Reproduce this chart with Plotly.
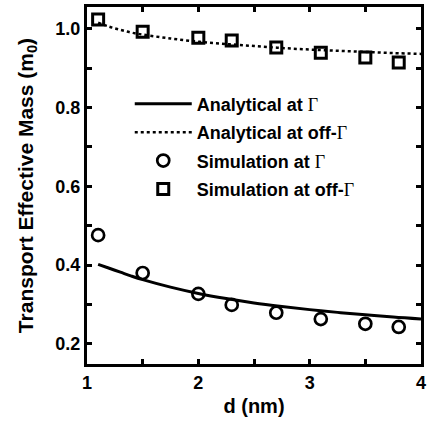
import plotly.graph_objects as go

# Simulation data
d_sim = [1.1, 1.5, 2.0, 2.3, 2.7, 3.1, 3.5, 3.8]
m_sim_gamma = [0.476, 0.380, 0.327, 0.299, 0.279, 0.263, 0.251, 0.243]
m_sim_off = [1.023, 0.992, 0.977, 0.970, 0.952, 0.939, 0.927, 0.914]

# Analytical curves
d_an = [1.1, 1.2, 1.3, 1.4, 1.5, 1.75, 2.0, 2.25, 2.5, 2.75, 3.0, 3.25, 3.5, 3.75, 4.0]
m_an_gamma = [0.402, 0.392, 0.382, 0.372, 0.363, 0.344, 0.328, 0.315, 0.304, 0.295,
              0.287, 0.280, 0.274, 0.268, 0.263]
m_an_off = [1.015, 1.005, 0.997, 0.990, 0.985, 0.975, 0.967, 0.961, 0.956, 0.951,
            0.947, 0.944, 0.941, 0.938, 0.936]

x_ticks = [1, 2, 3, 4]
y_ticks = [0.2, 0.4, 0.6, 0.8, 1.0]

G = '<span style="font-family:Liberation Serif;font-weight:normal">Γ</span>'

fig = go.Figure()
fig.add_trace(go.Scatter(x=d_an, y=m_an_gamma, mode='lines', line=dict(color='black', width=3, shape='spline'),
                         name='Analytical at ' + G, legendgroup='a'))
fig.add_trace(go.Scatter(x=d_an, y=m_an_off, mode='lines', line=dict(color='black', width=2.5, dash='dot', shape='spline'),
                         name='Analytical at off-' + G, legendgroup='b'))
fig.add_trace(go.Scatter(x=d_sim, y=m_sim_gamma, mode='markers',
                         marker=dict(symbol='circle-open', size=12, color='black', line=dict(width=2.7)),
                         name='Simulation at ' + G, legendgroup='c'))
fig.add_trace(go.Scatter(x=d_sim, y=m_sim_off, mode='markers',
                         marker=dict(symbol='square-open', size=11, color='black', line=dict(width=3)),
                         name='Simulation at off-' + G, legendgroup='d'))

axis_common = dict(showline=True, linecolor='black', linewidth=3, mirror='ticks',
                   ticks='inside', ticklen=5, tickwidth=3, tickcolor='black',
                   showgrid=False, zeroline=False,
                   tickfont=dict(family='Liberation Sans', size=18, color='black', weight='bold'))

fig.update_layout(
    width=429, height=422,
    margin=dict(l=87, r=3, t=7, b=58),
    plot_bgcolor='white', paper_bgcolor='white',
    showlegend=True,
    legend=dict(x=0.128, y=0.78, xanchor='left', yanchor='top', bgcolor='rgba(0,0,0,0)',
                font=dict(family='Liberation Sans', size=18, color='black', weight='bold'),
                itemwidth=57, tracegroupgap=2, traceorder='grouped'),
    xaxis=dict(range=[1, 4], tickvals=x_ticks, ticktext=[str(v) for v in x_ticks],
               minor=dict(dtick=0.5, ticks='inside', ticklen=5, tickwidth=3, tickcolor='black'),
               title=dict(text='d (nm)', font=dict(family='Liberation Sans', size=20, color='black', weight='bold'),
                          standoff=8),
               **axis_common),
    yaxis=dict(range=[0.149, 1.055], tickvals=y_ticks, ticktext=['%.1f' % v for v in y_ticks],
               minor=dict(dtick=0.1, ticks='inside', ticklen=5, tickwidth=3, tickcolor='black'),
               title=dict(text='Transport Effective Mass (m<sub>0</sub>)',
                          font=dict(family='Liberation Sans', size=21, color='black', weight='bold'),
                          standoff=17),
               **axis_common),
)

fig.write_html('out.html')
